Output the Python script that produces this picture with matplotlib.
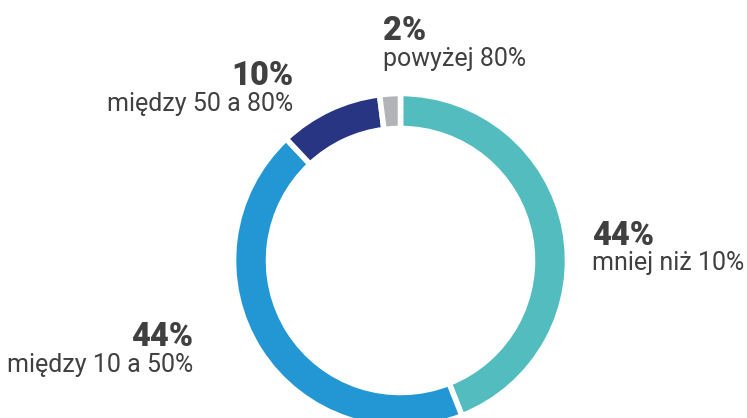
import matplotlib
matplotlib.use("Agg")
import matplotlib.pyplot as plt

categories = ["mniej niż 10%", "między 10 a 50%", "między 50 a 80%", "powyżej 80%"]
values = [44, 44, 10, 2]
pct_labels = ["44%", "44%", "10%", "2%"]
colors = ["#52BCBE", "#2397D4", "#283583", "#B2B3B6"]

W, H = 747, 418
fig = plt.figure(figsize=(W / 100, H / 100), dpi=100)
ax = fig.add_axes([0, 0, 1, 1])

cx, cy = 400.5, H - 260.5
ax.pie(values, colors=colors, startangle=90, counterclock=False,
       center=(cx, cy), radius=167, frame=True,
       wedgeprops=dict(width=35, edgecolor="white", linewidth=4))
ax.set_xlim(0, W)
ax.set_ylim(0, H)
ax.set_aspect("equal")
ax.axis("off")

tc = "#404040"
bold = dict(family="Roboto", weight="black", fontsize=23.5, color=tc)
reg = dict(family="Roboto", fontsize=18, color=tc)

# label positions (pixel coords from top: x, bold baseline, text baseline)
pos = {
    0: (592, 245, 270, "left"),
    1: (193, 346, 372, "right"),
    2: (293, 85, 111, "right"),
    3: (383, 40, 66, "left"),
}
for i, (x, yb, yt, ha) in pos.items():
    ax.text(x, H - yb, pct_labels[i], ha=ha, va="baseline", **bold)
    ax.text(x, H - yt, categories[i], ha=ha, va="baseline", **reg)

fig.savefig("out.png", dpi=100)
